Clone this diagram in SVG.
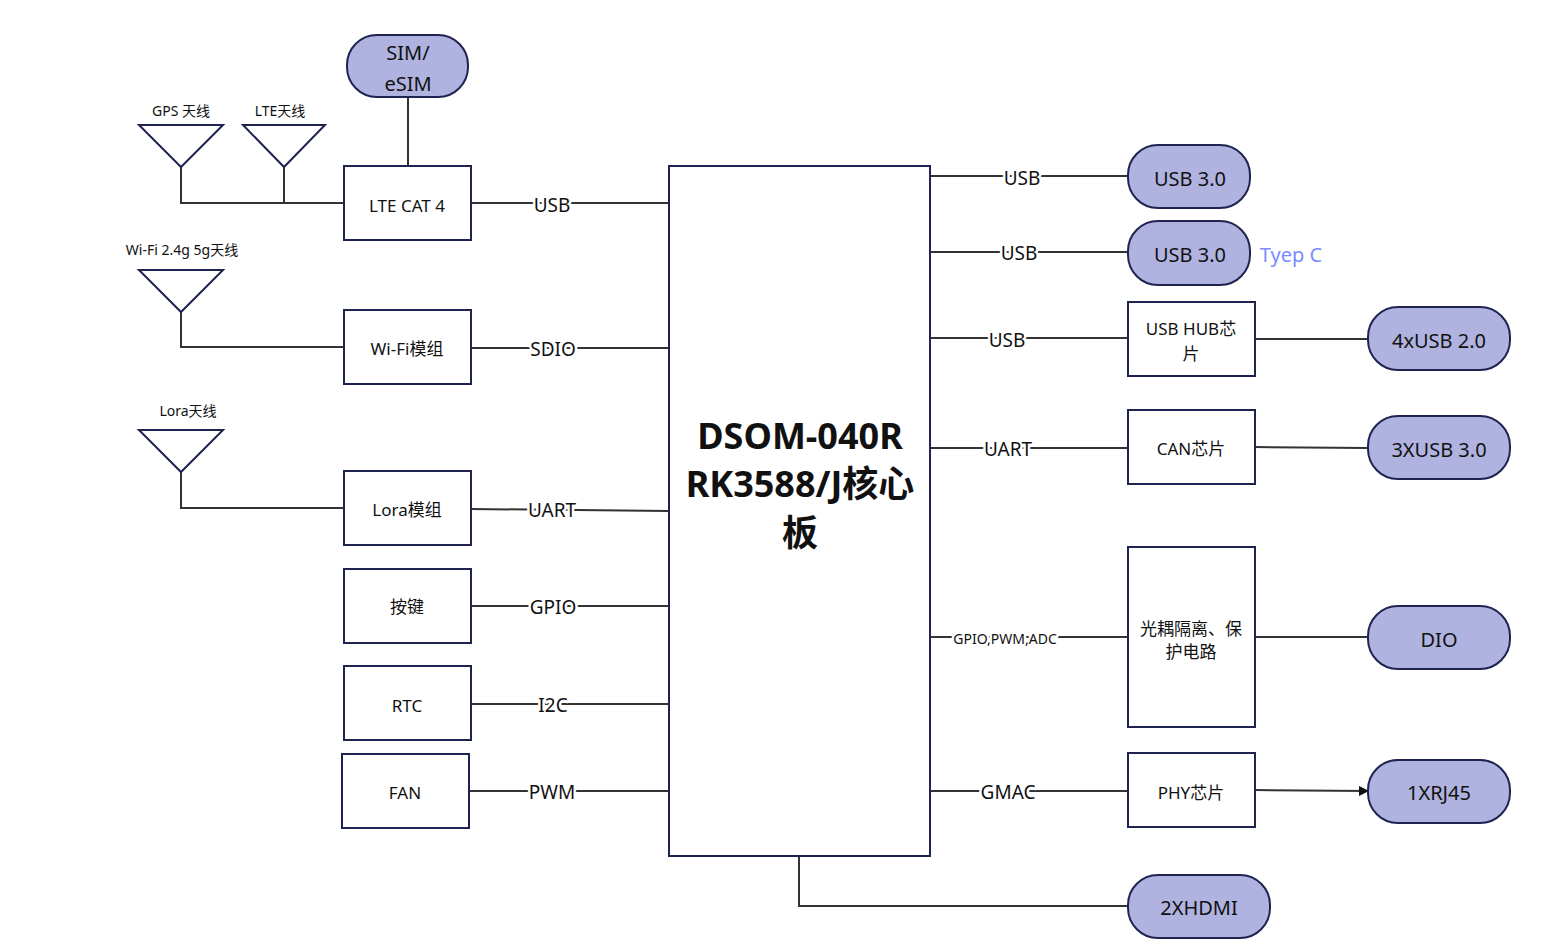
<svg xmlns="http://www.w3.org/2000/svg" width="1566" height="951" viewBox="0 0 1566 951">
<style>
text{font-family:"Noto Sans","Noto Sans CJK SC",sans-serif;fill:#111;text-anchor:middle;dominant-baseline:central}
.box{fill:#fff;stroke:#1f2350;stroke-width:2}
.pill{fill:#b0b3e0;stroke:#1f2350;stroke-width:2}
.ln{stroke:#333;stroke-width:2;fill:none}
.lbl{font-size:19px;stroke:#fff;stroke-width:5px;paint-order:stroke}
.t{font-size:17px}
.p{font-size:20px}
.a{font-size:14px}
</style>
<defs><marker id="ar" markerWidth="10" markerHeight="10" refX="9" refY="5" orient="auto" markerUnits="userSpaceOnUse" viewBox="0 0 10 10"><path d="M0,0L10,5L0,10z" fill="#111"/></marker></defs>
<rect width="1566" height="951" fill="#fff"/>
<g id="connectors">
<path class="ln" d="M408,97V166M181,167V203H344M284,167V203M181,312V347H344M181,472V508H344"/>
<path class="ln" d="M471,203H669M471,348H669M471,509L669,511M471,606H669M471,704H669M469,791H669"/>
<path class="ln" d="M930,176H1128M930,252H1128M930,338H1128M930,448H1128M930,637H1128M930,791H1128M799,856V906H1128"/>
<path class="ln" d="M1255,339H1368M1255,447L1368,448M1255,637H1368M1255,790L1368,791" marker-end="url(#ar)"/>
<text class="lbl" x="552" y="205">USB</text>
<text class="lbl" x="553" y="349">SDIO</text>
<text class="lbl" x="552" y="510">UART</text>
<text class="lbl" x="553" y="607">GPIO</text>
<text class="lbl" x="553" y="705">I2C</text>
<text class="lbl" x="552" y="792">PWM</text>
<text class="lbl" x="1022" y="178">USB</text>
<text class="lbl" x="1019" y="253">USB</text>
<text class="lbl" x="1007" y="340">USB</text>
<text class="lbl" x="1008" y="449">UART</text>
<text class="lbl a" x="1005" y="638">GPIO,PWM,ADC</text>
<text class="lbl" x="1008" y="792">GMAC</text>
</g>
<g id="antennas" fill="#fff" stroke="#1f2350" stroke-width="2">
<path d="M139,125H223L181,167Z"/><path d="M243,125H325L284,167Z"/><path d="M139,270H223L181,312Z"/><path d="M139,430H223L181,472Z"/>
</g>
<text class="a" x="181" y="110">GPS 天线</text>
<text class="a" x="280" y="110">LTE天线</text>
<text class="a" x="182" y="249">Wi-Fi 2.4g 5g天线</text>
<text class="a" x="188" y="410">Lora天线</text>
<g id="sim"><rect class="pill" x="347" y="35" width="121" height="62" rx="30"/><text class="p" x="408" y="52">SIM/</text><text class="p" x="408" y="83">eSIM</text></g>
<g id="lte"><rect class="box" x="344" y="166" width="127" height="74"/><text class="t" x="407" y="205">LTE CAT 4</text></g>
<g id="wifi"><rect class="box" x="344" y="310" width="127" height="74"/><text class="t" x="407" y="348">Wi-Fi模组</text></g>
<g id="lora"><rect class="box" x="344" y="471" width="127" height="74"/><text class="t" x="407" y="509">Lora模组</text></g>
<g id="key"><rect class="box" x="344" y="569" width="127" height="74"/><text class="t" x="407" y="606">按键</text></g>
<g id="rtc"><rect class="box" x="344" y="666" width="127" height="74"/><text class="t" x="407" y="705">RTC</text></g>
<g id="fan"><rect class="box" x="342" y="754" width="127" height="74"/><text class="t" x="405" y="792">FAN</text></g>
<g id="main"><rect class="box" x="669" y="166" width="261" height="690"/>
<text x="800" y="435" font-size="36" font-weight="bold">DSOM-040R</text>
<text x="800" y="483" font-size="36" font-weight="bold">RK3588/J核心</text>
<text x="800" y="532" font-size="36" font-weight="bold">板</text></g>
<g id="usb1"><rect class="pill" x="1128" y="145" width="122" height="63" rx="30"/><text class="p" x="1190" y="178">USB 3.0</text></g>
<g id="usb2"><rect class="pill" x="1128" y="221" width="122" height="64" rx="30"/><text class="p" x="1190" y="254">USB 3.0</text></g>
<text x="1291" y="254" font-size="20" style="fill:#7b8cff">Tyep C</text>
<g id="hub"><rect class="box" x="1128" y="302" width="127" height="74"/><text class="t" x="1191" y="328">USB HUB芯</text><text class="t" x="1191" y="353">片</text></g>
<g id="usb20"><rect class="pill" x="1368" y="307" width="142" height="63" rx="30"/><text class="p" x="1439" y="340">4xUSB 2.0</text></g>
<g id="can"><rect class="box" x="1128" y="410" width="127" height="74"/><text class="t" x="1191" y="448">CAN芯片</text></g>
<g id="usb3x"><rect class="pill" x="1368" y="416" width="142" height="63" rx="30"/><text class="p" x="1439" y="449">3XUSB 3.0</text></g>
<g id="opto"><rect class="box" x="1128" y="547" width="127" height="180"/><text class="t" x="1191" y="628">光耦隔离、保</text><text class="t" x="1191" y="651">护电路</text></g>
<g id="dio"><rect class="pill" x="1368" y="606" width="142" height="63" rx="30"/><text class="p" x="1439" y="639">DIO</text></g>
<g id="phy"><rect class="box" x="1128" y="753" width="127" height="74"/><text class="t" x="1191" y="792">PHY芯片</text></g>
<g id="rj45"><rect class="pill" x="1368" y="760" width="142" height="63" rx="30"/><text class="p" x="1439" y="792">1XRJ45</text></g>
<g id="hdmi"><rect class="pill" x="1128" y="875" width="142" height="63" rx="30"/><text class="p" x="1199" y="907">2XHDMI</text></g>
</svg>
